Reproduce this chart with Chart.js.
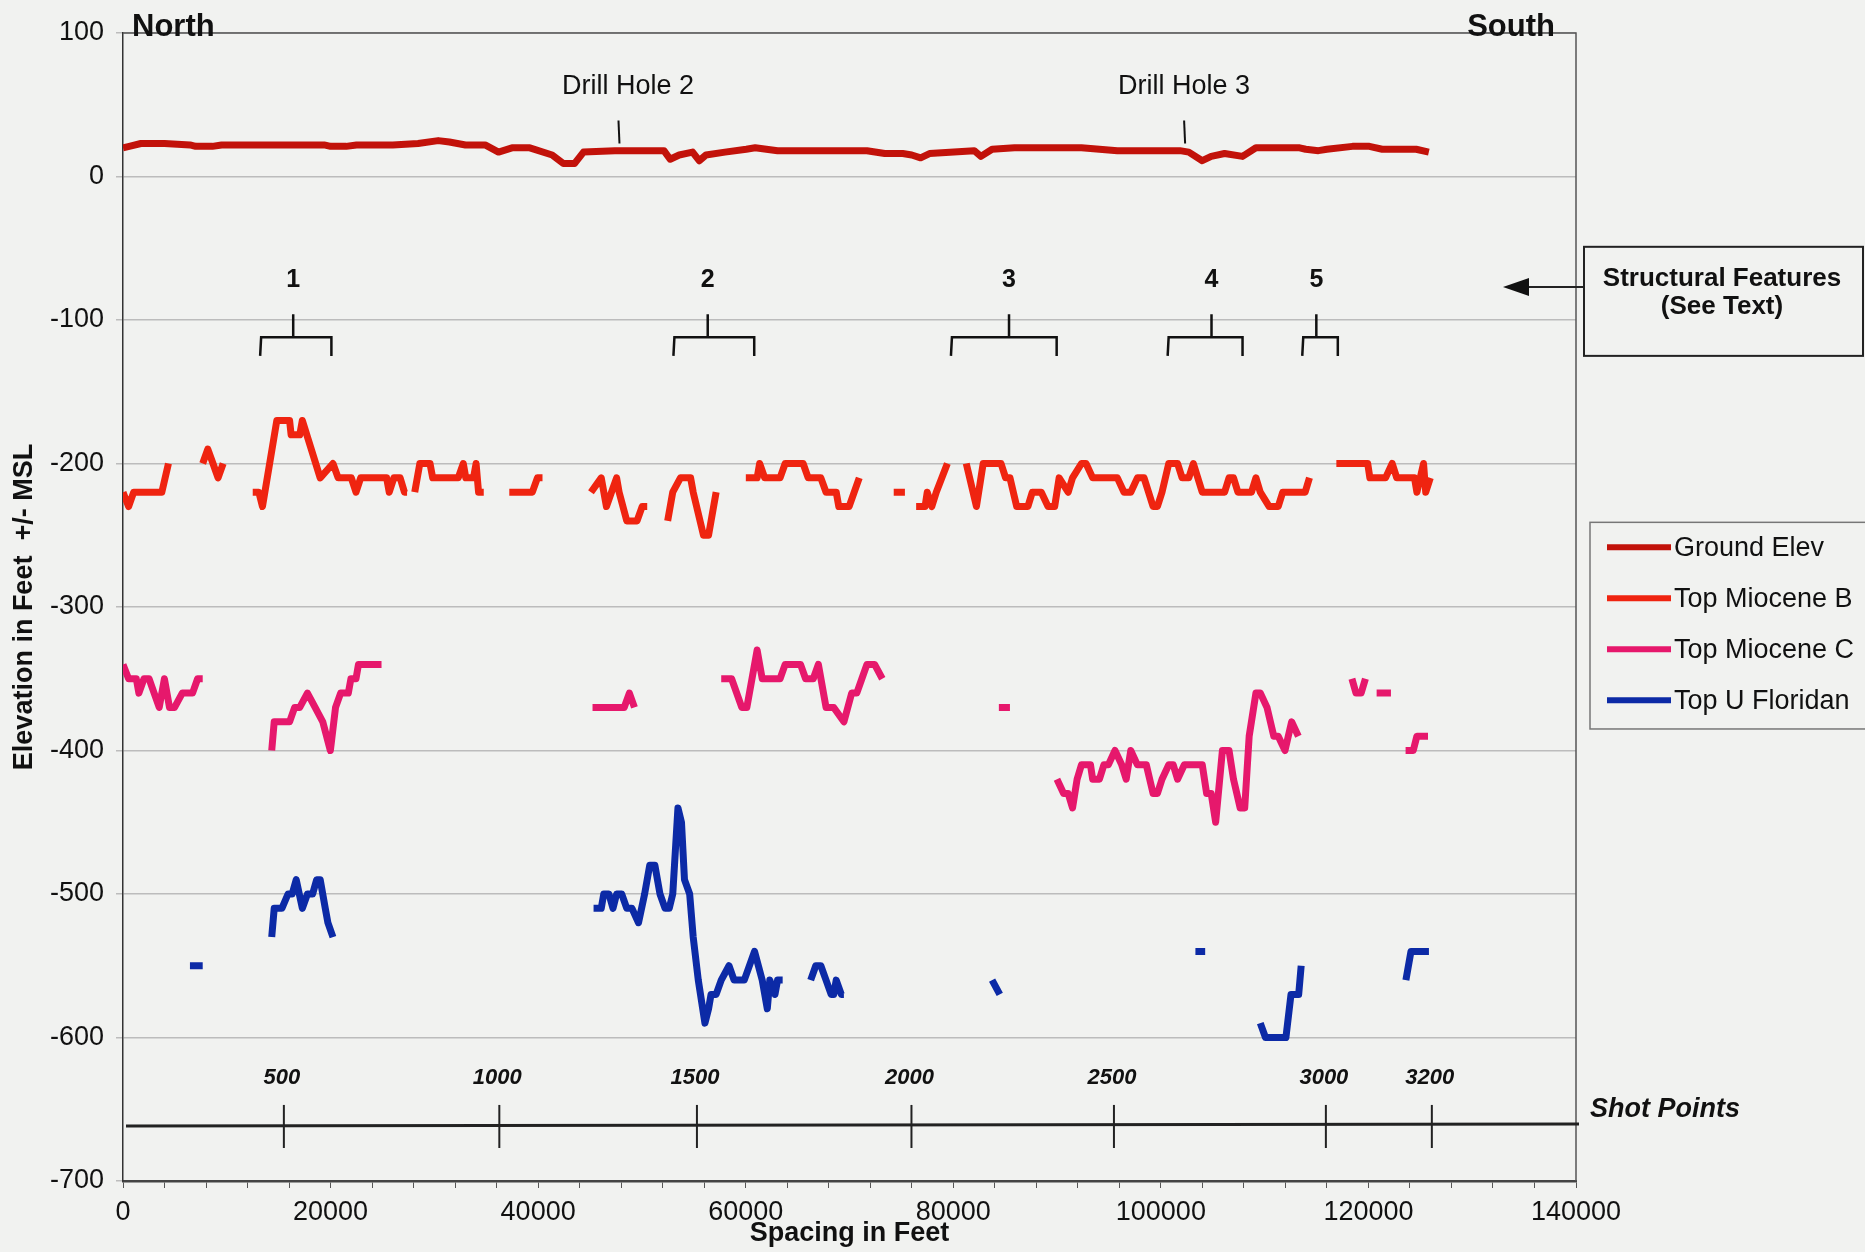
<!DOCTYPE html>
<html>
<head>
<meta charset="utf-8">
<script src="https://cdn.jsdelivr.net/npm/chart.js@4.4.0/dist/chart.umd.min.js"></script>
<style>
  body { margin: 0; background: #f1f2f0; }
  canvas { display: block; }
</style>
</head>
<body>
<canvas id="chart" width="1865" height="1252"></canvas>
<script>
const FONT = "'Liberation Sans', Arial, sans-serif"

// series: [spacing in feet, elevation], [x, null] breaks the line
const groundElev = [[0,20],[600,21],[1720,23],[4000,23],[6460,22],[7000,21],[8610,21],[9500,22],[12000,22],[15000,22],
  [19380,22],[20000,21],[21500,21],[22500,22],[26000,22],[28430,23],[30370,25],[31450,24],[33000,22],[34890,22],
  [36180,17],[37480,20],[39200,20],[41350,15],[42430,9],[43500,9],[44370,17],[47390,18],[52120,18],[52720,12],
  [53590,15],[54880,17],[55520,11],[56170,15],[58000,17],[60050,19],[60910,20],[63070,18],[71680,18],[73400,16],
  [75130,16],[76000,15],[76850,13],[77710,16],[82020,18],[82660,14],[83740,19],[85900,20],[92350,20],[95810,18],
  [101840,18],[102690,17],[103990,11],[104850,14],[106140,16],[107870,14],[109160,20],[113380,20],[113960,19],
  [115180,18],[116000,19],[118460,21],[120090,21],[121330,19],[124600,19],[125820,17]]

const topMioceneB = [[0,-220],[540,-230],[1030,-220],[3740,-220],[4380,-200],[5000,null],
  [7680,-200],[8170,-190],[8670,-200],[9160,-210],[9650,-200],[10000,null],
  [12500,-220],[13090,-220],[13440,-230],[14820,-170],[16050,-170],[16200,-180],[17030,-180],[17280,-170],[19000,-210],
  [20230,-200],[20730,-210],[22000,-210],[22450,-220],[22900,-210],[25400,-210],[25650,-220],[26100,-210],[26700,-210],
  [27120,-220],[27370,-220],[27700,null],
  [28110,-220],[28600,-200],[29580,-200],[29840,-210],[32300,-210],[32790,-200],[33030,-210],[33770,-210],[34020,-200],
  [34260,-220],[34760,-220],[35500,null],
  [37220,-220],[39440,-220],[39930,-210],[40420,-210],[42000,null],
  [45090,-220],[46080,-210],[46580,-230],[47070,-220],[47560,-210],[47800,-220],[48540,-240],[49530,-240],[50020,-230],
  [50510,-230],[51500,null],
  [52480,-240],[52970,-220],[53710,-210],[54690,-210],[54940,-220],[55930,-250],[56420,-250],[57150,-220],[58000,null],
  [60010,-210],[61100,-210],[61340,-200],[61830,-210],[63310,-210],[63800,-200],[65530,-200],[66020,-210],[67240,-210],
  [67740,-220],[68720,-220],[68970,-230],[69960,-230],[70940,-210],[72000,null],
  [74260,-220],[75340,-220],[75800,null],
  [76420,-230],[77280,-230],[77490,-220],[77930,-230],[78360,-220],[79430,-200],[80300,null],
  [81250,-200],[82230,-230],[82880,-200],[84600,-200],[85040,-210],[85460,-210],[86110,-230],[87190,-230],[87610,-220],
  [88480,-220],[89130,-230],[89770,-230],[90200,-210],[91070,-220],[91490,-210],[92350,-200],[92790,-200],[93430,-210],
  [95810,-210],[96450,-220],[97100,-220],[97740,-210],[98380,-210],[99250,-230],[99670,-230],[100110,-220],[100760,-200],
  [101610,-200],[102050,-210],[102690,-210],[103130,-200],[103990,-220],[106140,-220],[106570,-210],[107000,-210],
  [107430,-220],[108730,-220],[109160,-210],[109580,-220],[110440,-230],[111310,-230],[111740,-220],[113900,-220],
  [114320,-210],[115500,null],
  [116910,-200],[119930,-200],[120140,-210],[121650,-210],[122290,-200],[122730,-210],[124440,-210],[124670,-220],
  [125310,-200],[125520,-220],[125960,-210]]

const topMioceneC = [[0,-340],[540,-350],[1280,-350],[1530,-360],[2020,-350],[2510,-350],[3000,-360],[3490,-370],
  [3990,-350],[4480,-370],[4970,-370],[5710,-360],[6700,-360],[7190,-350],[7680,-350],[9000,null],
  [14330,-400],[14570,-380],[16050,-380],[16540,-370],[17030,-370],[17770,-360],[18510,-370],[19250,-380],[19980,-400],
  [20480,-370],[20970,-360],[21710,-360],[21960,-350],[22450,-350],[22690,-340],[24910,-340],[30000,null],
  [45240,-370],[48290,-370],[48790,-360],[49280,-370],[52000,null],
  [57640,-350],[58640,-350],[59620,-370],[60110,-370],[61100,-330],[61590,-350],[63310,-350],[63800,-340],[65280,-340],
  [65770,-350],[66510,-350],[67000,-340],[67740,-370],[68480,-370],[69460,-380],[70210,-360],[70700,-360],[71190,-350],
  [71680,-340],[72420,-340],[73160,-350],[80000,null],
  [84390,-370],[85460,-370],[87000,null],
  [89990,-420],[90630,-430],[91070,-430],[91490,-440],[91930,-420],[92350,-410],[93220,-410],[93430,-420],[94080,-420],
  [94510,-410],[94940,-410],[95580,-400],[96230,-410],[96660,-420],[97100,-400],[97740,-410],[98600,-410],[99250,-430],
  [99670,-430],[100110,-420],[100760,-410],[101190,-410],[101610,-420],[102260,-410],[103990,-410],[104410,-430],
  [104850,-430],[105280,-450],[105930,-400],[106570,-400],[107000,-420],[107640,-440],[108080,-440],[108510,-390],
  [109160,-360],[109580,-360],[110230,-370],[110880,-390],[111310,-390],[111960,-400],[112600,-380],[113250,-390],
  [116000,null],
  [118410,-350],[118800,-360],[119300,-360],[119710,-350],[120200,null],
  [120790,-360],[122170,-360],[122900,null],
  [123580,-400],[124320,-400],[124670,-390],[125740,-390]]

const topUFloridan = [[6450,-550],[7680,-550],[10000,null],
  [14330,-530],[14570,-510],[15310,-510],[15900,-500],[16300,-500],[16690,-490],[17280,-510],[17770,-500],[18270,-500],
  [18660,-490],[19000,-490],[19490,-510],[19740,-520],[20230,-530],[30000,null],
  [45340,-510],[46080,-510],[46320,-500],[46820,-500],[47210,-510],[47560,-500],[48050,-500],[48540,-510],[49040,-510],
  [49670,-520],[50260,-500],[50750,-480],[51250,-480],[51740,-500],[52230,-510],[52630,-510],[52970,-500],[53470,-440],
  [53810,-450],[54100,-490],[54600,-500],[54940,-530],[55430,-560],[56070,-590],[56420,-580],[56660,-570],[57150,-570],
  [57640,-560],[58390,-550],[58880,-560],[59860,-560],[60850,-540],[61590,-560],[62080,-580],[62320,-560],[62820,-570],
  [63070,-560],[63560,-560],[65000,null],
  [66260,-560],[66750,-550],[67240,-550],[67740,-560],[68230,-570],[68480,-570],[68720,-560],[69210,-570],[69460,-570],
  [75000,null],
  [83740,-560],[84480,-570],[90000,null],
  [103330,-540],[104270,-540],[106000,null],
  [109580,-590],[110080,-600],[112050,-600],[112540,-570],[112790,-570],[113280,-570],[113520,-550],[118000,null],
  [123610,-560],[124100,-540],[125830,-540]]

const seriesNames = ['Ground Elev', 'Top Miocene B', 'Top Miocene C', 'Top U Floridan']
const seriesColors = ['#c2120a', '#ef2410', '#e6186c', '#0c2aa6']

// shot point scale under the plot
const shotPoints = [500, 1000, 1500, 2000, 2500, 3000, 3200]
const shotPointX = [15500, 36260, 55300, 75970, 95480, 115900, 126110]

// structural features 1-5: label x, bracket left / right
const featureLabels = ['1', '2', '3', '4', '5']
const featureX = [16400, 56340, 85370, 104880, 114980]
const featureLeft = [13310, 53130, 79870, 100750, 113720]
const featureRight = [20080, 60820, 89960, 107870, 117050]

const drillHoles = ['Drill Hole 2', 'Drill Hole 3']
const drillHoleX = [47740, 102240]
const drillLabelX = [48650, 102240]

const toPoints = arr => arr.map(p => ({ x: p[0], y: p[1] }))
const seriesData = [groundElev, topMioceneB, topMioceneC, topUFloridan]

const overlay = {
  id: 'overlay',
  afterDatasetsDraw(chart) {
    const { ctx, chartArea: a, scales: { x, y } } = chart
    ctx.save()

    // frame top + right
    ctx.strokeStyle = '#555'
    ctx.lineWidth = 1.5
    ctx.beginPath()
    ctx.moveTo(a.left, a.top)
    ctx.lineTo(a.right, a.top)
    ctx.lineTo(a.right, a.bottom)
    ctx.stroke()

    ctx.fillStyle = '#111'
    ctx.strokeStyle = '#111'
    ctx.textBaseline = 'alphabetic'

    // North / South
    ctx.font = 'bold 31px ' + FONT
    ctx.textAlign = 'left'
    ctx.fillText('North', a.left + 9, a.top + 3)
    ctx.textAlign = 'right'
    ctx.fillText('South', a.right - 21, a.top + 3)

    // drill holes
    ctx.font = '27px ' + FONT
    ctx.textAlign = 'center'
    ctx.textBaseline = 'middle'
    ctx.lineWidth = 2
    drillHoles.forEach((name, i) => {
      ctx.fillText(name, x.getPixelForValue(drillLabelX[i]), y.getPixelForValue(63))
      const px = x.getPixelForValue(drillHoleX[i])
      ctx.beginPath()
      ctx.moveTo(px, y.getPixelForValue(39))
      ctx.lineTo(px + 1, y.getPixelForValue(23))
      ctx.stroke()
    })

    // structural features brackets
    ctx.font = 'bold 25px ' + FONT
    ctx.lineWidth = 2.5
    featureLabels.forEach((lab, i) => {
      const cx = x.getPixelForValue(featureX[i])
      ctx.fillText(lab, cx, y.getPixelForValue(-72))
      const l = x.getPixelForValue(featureLeft[i])
      const r = x.getPixelForValue(featureRight[i])
      const yTop = y.getPixelForValue(-96)
      const yBar = y.getPixelForValue(-112)
      const yLeg = y.getPixelForValue(-125)
      ctx.beginPath()
      ctx.moveTo(cx, yTop)
      ctx.lineTo(cx, yBar)
      ctx.moveTo(l - 1, yLeg)
      ctx.lineTo(l, yBar)
      ctx.lineTo(r, yBar)
      ctx.lineTo(r, yLeg)
      ctx.stroke()
    })

    // shot points line
    const yShot = y.getPixelForValue(-661)
    ctx.lineWidth = 3
    ctx.strokeStyle = '#222'
    ctx.beginPath()
    ctx.moveTo(a.left + 3, yShot + 1)
    ctx.lineTo(a.right + 3, yShot - 1)
    ctx.stroke()
    ctx.lineWidth = 2
    ctx.font = 'italic bold 22px ' + FONT
    shotPoints.forEach((sp, i) => {
      const px = x.getPixelForValue(shotPointX[i])
      ctx.beginPath()
      ctx.moveTo(px, y.getPixelForValue(-647))
      ctx.lineTo(px, y.getPixelForValue(-677))
      ctx.stroke()
      ctx.fillText(String(sp), px - 2, y.getPixelForValue(-628))
    })
    ctx.textAlign = 'left'
    ctx.font = 'italic bold 27px ' + FONT
    ctx.fillText('Shot Points', a.right + 14, y.getPixelForValue(-650))

    // structural features box + arrow
    const bx = a.right + 8
    const bTop = y.getPixelForValue(-49)
    const bBot = y.getPixelForValue(-125)
    ctx.lineWidth = 2
    ctx.strokeStyle = '#222'
    ctx.strokeRect(bx, bTop, 1863 - bx, bBot - bTop)
    ctx.font = 'bold 26px ' + FONT
    ctx.textAlign = 'center'
    ctx.fillText('Structural Features', bx + 138, y.getPixelForValue(-71))
    ctx.fillText('(See Text)', bx + 138, y.getPixelForValue(-91))
    const ay = y.getPixelForValue(-77)
    const tip = a.right - 73
    ctx.beginPath()
    ctx.moveTo(bx, ay)
    ctx.lineTo(tip + 20, ay)
    ctx.stroke()
    ctx.beginPath()
    ctx.moveTo(tip, ay)
    ctx.lineTo(tip + 26, ay - 9)
    ctx.lineTo(tip + 26, ay + 9)
    ctx.closePath()
    ctx.fill()

    // legend
    const lx = a.right + 14
    const lTop = y.getPixelForValue(-241)
    const lBot = y.getPixelForValue(-385)
    ctx.lineWidth = 1.5
    ctx.strokeStyle = '#777'
    ctx.strokeRect(lx, lTop, 1870 - lx, lBot - lTop)
    ctx.font = '27px ' + FONT
    ctx.textAlign = 'left'
    chart.data.datasets.forEach((ds, i) => {
      const ry = lTop + 25 + i * 51
      ctx.strokeStyle = ds.borderColor
      ctx.lineWidth = 6
      ctx.beginPath()
      ctx.moveTo(lx + 17, ry)
      ctx.lineTo(lx + 81, ry)
      ctx.stroke()
      ctx.fillStyle = '#111'
      ctx.fillText(ds.label, lx + 84, ry + 1)
    })

    ctx.restore()
  }
}

const ctx = document.getElementById('chart').getContext('2d')
const chart = new Chart(ctx, {
  type: 'line',
  plugins: [overlay],
  data: {
    datasets: seriesData.map((d, i) => ({
      label: seriesNames[i],
      data: toPoints(d),
      borderColor: seriesColors[i],
      backgroundColor: seriesColors[i],
      borderWidth: 7,
      pointRadius: 0,
      tension: 0,
      spanGaps: false,
      borderJoinStyle: 'round',
      fill: false
    }))
  },
  options: {
    responsive: false,
    animation: false,
    layout: { padding: { top: 33, right: 289, left: 0, bottom: 0 } },
    plugins: {
      legend: { display: false },
      tooltip: { enabled: false }
    },
    scales: {
      x: {
        type: 'linear',
        min: 0,
        max: 140000,
        ticks: {
          stepSize: 4000,
          autoSkip: false,
          maxRotation: 0,
          padding: 8,
          color: '#111',
          font: { family: FONT, size: 27 },
          callback: v => (v % 20000 === 0 ? String(v) : '')
        },
        grid: { drawOnChartArea: false, drawTicks: true, tickLength: 7, color: '#555' },
        border: { color: '#444', width: 2.5 },
        title: {
          display: true,
          text: 'Spacing in Feet',
          color: '#111',
          font: { family: FONT, size: 27, weight: 'bold' },
          padding: { top: 0, bottom: 2 }
        },
        afterFit: s => { s.height = 71 }
      },
      y: {
        min: -700,
        max: 100,
        ticks: {
          stepSize: 100,
          padding: 12,
          color: '#111',
          font: { family: FONT, size: 27 }
        },
        grid: { color: '#bcbcbc', lineWidth: 1.5, tickLength: 7 },
        border: { color: '#333', width: 1.5 },
        title: {
          display: true,
          text: 'Elevation in Feet  +/- MSL',
          color: '#111',
          font: { family: FONT, size: 27, weight: 'bold' },
          padding: { top: 8, bottom: 0 }
        },
        afterFit: s => { s.width = 123 }
      }
    }
  }
})
</script>
</body>
</html>
